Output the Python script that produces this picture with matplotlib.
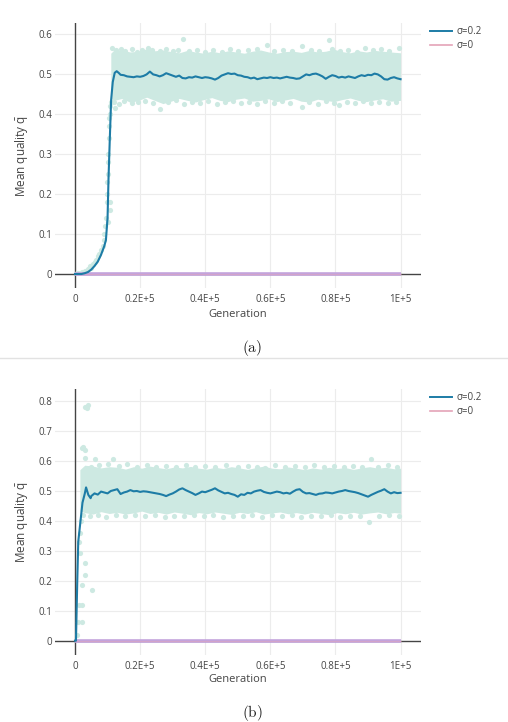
import numpy as np
import matplotlib
matplotlib.use("Agg")
import matplotlib.pyplot as plt
from matplotlib.lines import Line2D

plt.rcParams.update({"font.family": ["Open Sans", "DejaVu Sans"], "mathtext.fontset": "custom",
                     "mathtext.rm": "Open Sans", "mathtext.it": "Open Sans:italic"})

C_LINE, C_CLOUD, C_ZERO_LAV, C_ZERO_PINK = "#1d7ca6", "#cde9e2", "#c3a3dc", "#e4a3b8"
TXT = "#444444"

# ---------------- panel (a) ----------------
GEN_A = [0, 2000, 3000, 4000, 5000, 6000, 7000, 8000, 9000, 9500, 10000, 10300, 10700, 11100,
         11600, 12200, 12800, 13400] + list(range(14000, 100001, 1000))
MEAN_A = [0, 0, 0.002, 0.005, 0.011, 0.02, 0.031, 0.048, 0.07, 0.085, 0.14, 0.24, 0.34, 0.435,
          0.48, 0.503, 0.507, 0.503,
          0.498, 0.497, 0.494, 0.493, 0.492, 0.494, 0.493, 0.495, 0.499, 0.506, 0.499, 0.497, 0.494,
          0.497, 0.502, 0.499, 0.496, 0.493, 0.496, 0.490, 0.489, 0.492, 0.491, 0.494, 0.492, 0.490,
          0.492, 0.491, 0.489, 0.486, 0.490, 0.496, 0.499, 0.502, 0.500, 0.501, 0.497, 0.496, 0.493,
          0.492, 0.489, 0.491, 0.487, 0.489, 0.491, 0.490, 0.492, 0.490, 0.491, 0.489, 0.491, 0.493,
          0.491, 0.490, 0.488, 0.489, 0.494, 0.499, 0.497, 0.500, 0.501, 0.498, 0.494, 0.488, 0.493,
          0.497, 0.495, 0.491, 0.493, 0.491, 0.494, 0.492, 0.490, 0.494, 0.497, 0.495, 0.498, 0.497,
          0.501, 0.499, 0.494, 0.487, 0.486, 0.490, 0.492, 0.489, 0.487]
BAND_A_X = [11000, 12000, 14500, 17000, 19500, 22000, 24500, 27000, 29500, 32000, 34500, 37000,
            39500, 42000, 44500, 47000, 49500, 52000, 54500, 57000, 59500, 62000, 64500, 67000,
            69500, 72000, 74500, 77000, 79500, 82000, 84500, 87000, 89500, 92000, 94500, 97000, 100000]
BAND_A_HI = [0.552, 0.560, 0.559, 0.555, 0.557, 0.563, 0.558, 0.560, 0.556, 0.553, 0.559, 0.555,
             0.552, 0.557, 0.553, 0.558, 0.555, 0.552, 0.557, 0.560, 0.555, 0.552, 0.556, 0.557,
             0.554, 0.559, 0.555, 0.557, 0.562, 0.556, 0.553, 0.558, 0.555, 0.559, 0.557, 0.555, 0.553]
BAND_A_LO = [0.439, 0.434, 0.439, 0.429, 0.434, 0.442, 0.434, 0.426, 0.432, 0.439, 0.434, 0.430,
             0.436, 0.441, 0.434, 0.431, 0.437, 0.440, 0.432, 0.434, 0.438, 0.431, 0.435, 0.439,
             0.432, 0.430, 0.437, 0.434, 0.431, 0.436, 0.440, 0.434, 0.431, 0.435, 0.438, 0.432, 0.434]
PTS_A = [(500, 0.002), (1000, 0.003), (2000, 0.005), (3000, 0.008), (4000, 0.012), (4500, 0.02),
         (5000, 0.016), (5500, 0.025), (6000, 0.03), (6500, 0.035), (7000, 0.045), (7500, 0.05),
         (8000, 0.06), (8500, 0.07), (8800, 0.085), (9000, 0.1), (9300, 0.12), (9500, 0.14),
         (10200, 0.13), (10800, 0.16), (10700, 0.18), (9700, 0.18), (9900, 0.2), (10100, 0.25),
         (9800, 0.23), (10000, 0.28), (10200, 0.3), (10300, 0.34), (10400, 0.37), (10500, 0.39),
         (10600, 0.4), (10800, 0.42), (11000, 0.43), (12300, 0.415),
         (11500, 0.565), (12500, 0.56), (14000, 0.562), (15500, 0.558), (17500, 0.563), (19000, 0.556),
         (20500, 0.56), (22500, 0.566), (23500, 0.561), (26000, 0.558), (28000, 0.563), (30000, 0.557),
         (31500, 0.561), (33100, 0.587), (35000, 0.558), (37500, 0.56), (40000, 0.555), (42500, 0.559),
         (45000, 0.556), (47500, 0.562), (50000, 0.557), (53000, 0.56), (56000, 0.562), (59000, 0.572),
         (61000, 0.558), (64000, 0.561), (66500, 0.557), (69700, 0.57), (72500, 0.56), (75000, 0.558),
         (77900, 0.585), (79000, 0.563), (81500, 0.558), (84000, 0.561), (86500, 0.556), (89000, 0.565),
         (91500, 0.559), (94000, 0.562), (96500, 0.557), (99500, 0.565),
         (12000, 0.43), (13500, 0.425), (15000, 0.432), (17400, 0.427), (19500, 0.43), (21500, 0.433),
         (24000, 0.428), (26150, 0.413), (28500, 0.43), (31000, 0.434), (33500, 0.426), (36000, 0.43),
         (38500, 0.428), (41000, 0.432), (43500, 0.425), (46000, 0.43), (48500, 0.433), (51000, 0.427),
         (53500, 0.43), (56000, 0.425), (58500, 0.432), (61000, 0.428), (63500, 0.433), (66000, 0.427),
         (69700, 0.418), (72000, 0.43), (74500, 0.426), (77000, 0.432), (79500, 0.428), (81000, 0.422),
         (83500, 0.43), (86000, 0.428), (88500, 0.432), (91000, 0.427), (93500, 0.43), (96000, 0.428),
         (98500, 0.43)]

# ---------------- panel (b) ----------------
GEN_B = [0, 300, 700, 1000, 1500, 2300, 3000, 3400, 4100, 4800] + list(range(5000, 100001, 1000))
MEAN_B = [0, 0, 0.2, 0.33, 0.38, 0.46, 0.49, 0.511, 0.486, 0.475,
          0.482, 0.491, 0.487, 0.497, 0.494, 0.491, 0.499, 0.502, 0.505, 0.489, 0.494, 0.497, 0.502,
          0.498, 0.499, 0.496, 0.498, 0.497, 0.495, 0.493, 0.491, 0.489, 0.486, 0.482, 0.487, 0.491,
          0.497, 0.504, 0.508, 0.502, 0.497, 0.492, 0.486, 0.491, 0.497, 0.495, 0.499, 0.503, 0.508,
          0.501, 0.496, 0.491, 0.493, 0.489, 0.486, 0.480, 0.488, 0.486, 0.493, 0.491, 0.497, 0.500,
          0.502, 0.496, 0.493, 0.491, 0.494, 0.497, 0.495, 0.491, 0.493, 0.490, 0.497, 0.503, 0.505,
          0.496, 0.491, 0.492, 0.489, 0.486, 0.490, 0.491, 0.494, 0.493, 0.491, 0.494, 0.497, 0.499,
          0.502, 0.499, 0.497, 0.495, 0.492, 0.488, 0.484, 0.480, 0.486, 0.491, 0.496, 0.500, 0.505,
          0.497, 0.491, 0.495, 0.492, 0.493]
BAND_B_X = [1500, 3000, 5500, 8000, 10500, 13000, 15500, 18000, 20500, 23000, 25500, 28000, 30500,
            33000, 35500, 38000, 40500, 43000, 45500, 48000, 50500, 53000, 55500, 58000, 60500, 63000,
            65500, 68000, 70500, 73000, 75500, 78000, 80500, 83000, 85500, 88000, 90500, 93000, 95500,
            98000, 100000]
BAND_B_HI = [0.570, 0.585, 0.582, 0.576, 0.580, 0.578, 0.572, 0.580, 0.575, 0.582, 0.577, 0.573,
             0.579, 0.576, 0.581, 0.575, 0.572, 0.578, 0.574, 0.580, 0.576, 0.571, 0.577, 0.582,
             0.575, 0.573, 0.579, 0.575, 0.570, 0.576, 0.572, 0.578, 0.574, 0.577, 0.571, 0.576,
             0.580, 0.575, 0.578, 0.573, 0.575]
BAND_B_LO = [0.432, 0.427, 0.422, 0.430, 0.424, 0.428, 0.422, 0.426, 0.432, 0.424, 0.428, 0.422,
             0.429, 0.425, 0.420, 0.427, 0.423, 0.429, 0.425, 0.421, 0.428, 0.424, 0.430, 0.422,
             0.426, 0.429, 0.423, 0.427, 0.422, 0.428, 0.424, 0.420, 0.427, 0.423, 0.428, 0.422,
             0.426, 0.429, 0.423, 0.427, 0.425]
PTS_B = [(500, 0.02), (1000, 0.063), (2050, 0.063), (1200, 0.119), (2000, 0.12), (2050, 0.186),
         (5130, 0.169), (3080, 0.219), (3080, 0.258), (1500, 0.291), (1300, 0.33), (1600, 0.36),
         (1800, 0.4), (2050, 0.641), (3080, 0.636), (2500, 0.645), (3080, 0.61), (6150, 0.606),
         (11800, 0.605), (3080, 0.78), (4100, 0.786), (3600, 0.775),
         (5000, 0.58), (7500, 0.585), (10000, 0.59), (13500, 0.582), (16000, 0.588), (19000, 0.58),
         (22000, 0.585), (25000, 0.578), (28000, 0.583), (31000, 0.58), (34000, 0.586), (37000, 0.578),
         (40000, 0.582), (43000, 0.58), (46500, 0.585), (50000, 0.578), (53000, 0.583), (56000, 0.58),
         (58460, 0.575), (61500, 0.584), (64500, 0.579), (67500, 0.582), (70500, 0.578), (73500, 0.584),
         (76500, 0.579), (79500, 0.583), (82500, 0.578), (85500, 0.582), (88000, 0.578), (90770, 0.605),
         (93000, 0.58), (96000, 0.584), (98970, 0.58),
         (2500, 0.42), (4500, 0.415), (7000, 0.42), (9500, 0.412), (12500, 0.418), (15500, 0.414),
         (18500, 0.42), (21500, 0.415), (24500, 0.418), (27500, 0.412), (30500, 0.417), (33500, 0.414),
         (36500, 0.42), (39500, 0.415), (42500, 0.418), (45500, 0.412), (48500, 0.417), (51500, 0.414),
         (54500, 0.419), (57500, 0.413), (60500, 0.418), (63500, 0.415), (66500, 0.419), (69500, 0.412),
         (72500, 0.417), (75500, 0.414), (78500, 0.418), (81500, 0.413), (84500, 0.417), (87500, 0.414),
         (90260, 0.397), (93500, 0.415), (96500, 0.418), (99500, 0.415)]

X_TICKS = [0, 20000, 40000, 60000, 80000, 100000]
X_LABELS = ["0", "0.2E+5", "0.4E+5", "0.6E+5", "0.8E+5", "1E+5"]
Y_TICKS_A = [0, 0.1, 0.2, 0.3, 0.4, 0.5, 0.6]
Y_TICKS_B = [0, 0.1, 0.2, 0.3, 0.4, 0.5, 0.6, 0.7, 0.8]
LEGEND = ["σ=0.2", "σ=0"]

W, H = 508, 722
fig = plt.figure(figsize=(W / 100, H / 100), dpi=100)

def px(x, y):  # pixel (from top-left) -> figure fraction
    return x / W, 1 - y / H

panels = [
    dict(top=23, bot=288, ylim=(-0.035, 0.6275), yt=Y_TICKS_A, gen=GEN_A, mean=MEAN_A,
         bx=BAND_A_X, hi=BAND_A_HI, lo=BAND_A_LO, pts=PTS_A, leg=34, cap="(a)", capy=348, xl=314),
    dict(top=389, bot=655, ylim=(-0.0477, 0.839), yt=Y_TICKS_B, gen=GEN_B, mean=MEAN_B,
         bx=BAND_B_X, hi=BAND_B_HI, lo=BAND_B_LO, pts=PTS_B, leg=400, cap="(b)", capy=713, xl=680),
]
L, R = 55, 421
for p in panels:
    ax = fig.add_axes([L / W, 1 - p["bot"] / H, (R - L) / W, (p["bot"] - p["top"]) / H])
    ax.set_xlim(-6140, 106270); ax.set_ylim(*p["ylim"])
    for s in ax.spines.values(): s.set_visible(False)
    for xt in X_TICKS[1:]:
        ax.axvline(xt, color="#ececec", lw=0.8, zorder=0)
    for yt in p["yt"][1:]:
        ax.axhline(yt, color="#ececec", lw=0.8, zorder=0)
    ax.axvline(0, color=TXT, lw=1.0, zorder=1)
    ax.axhline(0, color=TXT, lw=1.0, zorder=1)
    ax.fill_between(p["bx"], p["lo"], p["hi"], color=C_CLOUD, lw=0, zorder=2)
    px_, py_ = zip(*p["pts"])
    ax.scatter(px_, py_, s=14, color=C_CLOUD, lw=0, zorder=2)
    ax.plot([0, 100000], [0, 0], color=C_ZERO_LAV, lw=2.6, zorder=3, solid_capstyle="butt")
    ax.plot([0, 100000], [0, 0], color=C_ZERO_PINK, lw=0.6, alpha=0.6, zorder=3)
    ax.plot(p["gen"], p["mean"], color=C_LINE, lw=1.5, zorder=4)
    ax.set_xticks(X_TICKS); ax.set_xticklabels(X_LABELS)
    ax.set_yticks(p["yt"]); ax.set_yticklabels([f"{v:g}" for v in p["yt"]])
    ax.tick_params(length=0, labelsize=7, labelcolor=TXT)
    ax.tick_params(axis="x", pad=4.5); ax.tick_params(axis="y", pad=2)
    handles = [Line2D([], [], color=C_LINE, lw=1.4), Line2D([], [], color=C_ZERO_PINK, lw=1.2)]
    ax.legend(handles, LEGEND, loc="upper left", bbox_to_anchor=px(430, p["leg"] - 8),
              bbox_transform=fig.transFigure, frameon=False, fontsize=7, labelcolor=TXT,
              handlelength=2.3, handletextpad=0.4, labelspacing=0.35, borderpad=0, borderaxespad=0)
    cy = (p["top"] + p["bot"]) / 2
    fig.text(*px(22, cy), r"Mean quality $\bar{\mathrm{q}}$", rotation=90, ha="center", va="center",
             fontsize=8.5, color=TXT)
    fig.text(*px(238, p["xl"]), "Generation", ha="center", va="center", fontsize=8, color=TXT)
    fig.text(*px(252, p["capy"]), r"$\mathrm{" + p["cap"] + "}$", ha="center", va="center",
             fontsize=11, color="#222222", math_fontfamily="cm")

fig.add_artist(Line2D([0, 1], [1 - 358 / H] * 2, color="#e2e2e2", lw=1, transform=fig.transFigure))
fig.savefig("out.png", dpi=100, facecolor="white")
